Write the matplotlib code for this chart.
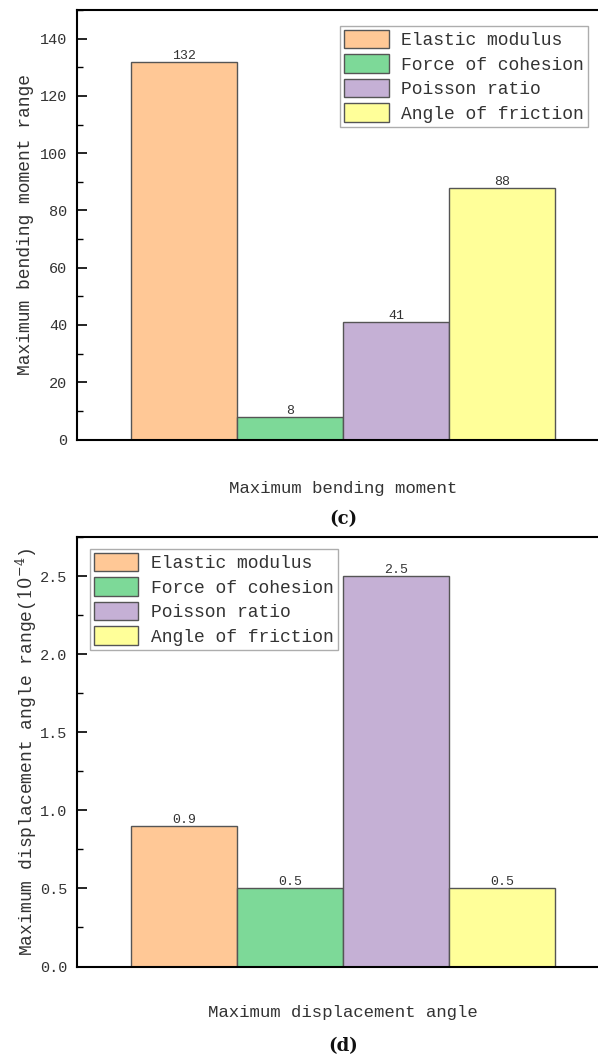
import matplotlib
matplotlib.use("Agg")
import matplotlib.pyplot as plt
from matplotlib.ticker import MultipleLocator

plt.rcParams['font.family'] = ['Liberation Mono', 'DejaVu Sans Mono']
plt.rcParams['mathtext.fontset'] = 'dejavuserif'

params = ["Elastic modulus", "Force of cohesion", "Poisson ratio", "Angle of friction"]
colors = ["#FFC896", "#7DD998", "#C5B0D5", "#FFFF99"]

moment_range = [132, 8, 41, 88]
moment_labels = ["132", "8", "41", "88"]
angle_range = [0.9, 0.5, 2.5, 0.5]
angle_labels = ["0.9", "0.5", "2.5", "0.5"]

W, H = 598, 1059
fig = plt.figure(figsize=(W / 100, H / 100), dpi=100)


def panel(top, bottom, values, labels, ylim, major, minor, ylabel, xlabel,
          tag, xlabel_y, tag_y, leg_anchor, leg_loc, fmt):
    ax = fig.add_axes([77 / W, 1 - bottom / H, (612 - 77) / W, (bottom - top) / H])
    for i, (v, c, p) in enumerate(zip(values, colors, params)):
        ax.bar(i, v, width=1.0, color=c, edgecolor="#555555", linewidth=1.0,
               label=p)
        ax.text(i, v, labels[i], ha="center", va="bottom", fontsize=9.5,
                color="#333333")
    ax.set_xlim(-1.01, 4.04)
    ax.set_ylim(*ylim)
    ax.yaxis.set_major_locator(MultipleLocator(major))
    ax.yaxis.set_minor_locator(MultipleLocator(minor))
    ax.yaxis.set_major_formatter(fmt)
    ax.set_xticks([])
    ax.tick_params(axis="y", direction="in", length=7, width=1.2, pad=7,
                   labelsize=11, labelcolor="#333333")
    ax.tick_params(axis="y", which="minor", direction="in", length=4, width=1.0)
    for s in ax.spines.values():
        s.set_linewidth(1.5)
    # axis titles placed in figure pixels
    fig.text(26 / W, 1 - (top + bottom) / 2 / H, ylabel, rotation=90,
             ha="center", va="center", fontsize=13, color="#333333")
    fig.text(343 / W, 1 - xlabel_y / H, xlabel, ha="center", va="center",
             fontsize=12.5, color="#333333")
    fig.text(343 / W, 1 - tag_y / H, tag, ha="center", va="center",
             fontsize=13, fontweight="bold", family="DejaVu Serif",
             color="#111111")
    leg = ax.legend(loc=leg_loc, bbox_to_anchor=leg_anchor,
                    bbox_transform=fig.transFigure, fontsize=13, frameon=True,
                    fancybox=False, edgecolor="#999999", borderpad=0.22,
                    labelspacing=0.28, handlelength=2.45, handleheight=1.2,
                    handletextpad=0.7, borderaxespad=0.0)
    leg.get_frame().set_linewidth(1.0)
    for t in leg.get_texts():
        t.set_color("#333333")
    return ax


panel(10, 439.5, moment_range, moment_labels, (0, 150), 20, 10,
      "Maximum bending moment range", "Maximum bending moment", "(c)",
      488, 519, (588 / W, 1 - 26 / H), "upper right", "{x:.0f}")

panel(537, 966.5, angle_range, angle_labels, (0, 2.75), 0.5, 0.25,
      "Maximum displacement angle range($10^{-4}$)",
      "Maximum displacement angle", "(d)",
      1013, 1046, (90 / W, 1 - 549 / H), "upper left", "{x:.1f}")

fig.savefig("out.png", dpi=100)
